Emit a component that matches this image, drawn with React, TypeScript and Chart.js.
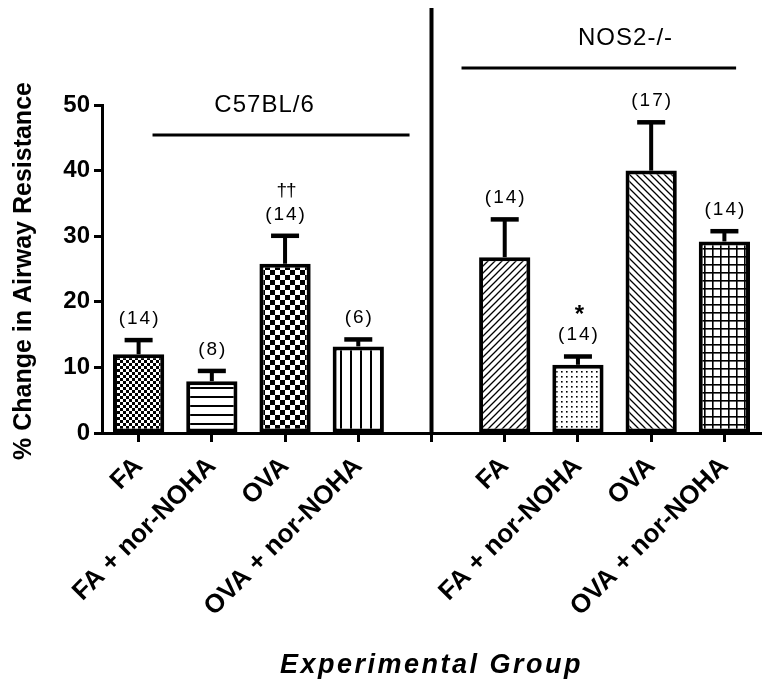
import React, { useEffect, useRef } from 'react';
import { Chart, registerables } from 'chart.js';

Chart.register(...registerables);

const categories = ['FA', 'FA + nor-NOHA', 'OVA', 'OVA + nor-NOHA', '', 'FA', 'FA + nor-NOHA', 'OVA', 'OVA + nor-NOHA'];
const means = [12.0, 7.9, 25.8, 13.2, 0, 26.8, 10.4, 40.0, 29.2];
const errorTops = [14.2, 9.5, 30.1, 14.3, 0, 32.6, 11.7, 47.4, 30.8];
const nLabels = ['(14)', '(8)', '(14)', '(6)', '', '(14)', '(14)', '(17)', '(14)'];
const sigMarks = ['', '', '††', '', '', '', '*', '', ''];
const patternKinds = ['checkFine', 'hlines', 'checkLarge', 'vlines', 'none', 'diagUp', 'dots', 'diagDown', 'grid'];
const groupNames = ['C57BL/6', 'NOS2-/-'];
const yAxisTitle = '% Change in Airway Resistance';
const xAxisTitle = 'Experimental Group';

const FONT = '"Liberation Sans", Arial, sans-serif';

function makePattern(kind: string): CanvasPattern | string {
  if (kind === 'none') return '#ffffff';
  const c = document.createElement('canvas');
  let w = 8, h = 8;
  if (kind === 'checkFine') { w = 6; h = 6; }
  if (kind === 'hlines') { w = 9; h = 9; }
  if (kind === 'checkLarge') { w = 10; h = 10; }
  if (kind === 'vlines') { w = 10; h = 10; }
  if (kind === 'diagUp' || kind === 'diagDown') { w = 7; h = 7; }
  if (kind === 'dots') { w = 5; h = 5; }
  if (kind === 'grid') { w = 8; h = 8; }
  c.width = w; c.height = h;
  const g = c.getContext('2d')!;
  g.fillStyle = '#ffffff';
  g.fillRect(0, 0, w, h);
  g.fillStyle = '#000000';
  g.strokeStyle = '#000000';
  switch (kind) {
    case 'checkFine':
      g.fillRect(0, 0, 3, 3); g.fillRect(3, 3, 3, 3); break;
    case 'checkLarge':
      g.fillRect(0, 0, 5, 5); g.fillRect(5, 5, 5, 5); break;
    case 'hlines':
      g.fillRect(0, 0, w, 2); break;
    case 'vlines':
      g.fillRect(0, 0, 2, h); break;
    case 'diagUp':
      g.lineWidth = 1.3;
      g.beginPath();
      g.moveTo(0, h); g.lineTo(w, 0);
      g.moveTo(-1, 1); g.lineTo(1, -1);
      g.moveTo(w - 1, h + 1); g.lineTo(w + 1, h - 1);
      g.stroke(); break;
    case 'diagDown':
      g.lineWidth = 1.3;
      g.beginPath();
      g.moveTo(0, 0); g.lineTo(w, h);
      g.moveTo(-1, h - 1); g.lineTo(1, h + 1);
      g.moveTo(w - 1, -1); g.lineTo(w + 1, 1);
      g.stroke(); break;
    case 'dots':
      g.fillRect(1, 1, 1.6, 1.6); break;
    case 'grid':
      g.fillRect(0, 0, w, 1.6); g.fillRect(0, 0, 1.6, h); break;
  }
  return g.createPattern(c, 'repeat')!;
}

const annotationPlugin = {
  id: 'annotations',
  afterDatasetsDraw(chart: any) {
    const ctx = chart.ctx as CanvasRenderingContext2D;
    const xs = chart.scales.x;
    const ys = chart.scales.y;
    const area = chart.chartArea;
    ctx.save();
    ctx.fillStyle = '#000';
    for (let i = 0; i < means.length; i++) {
      if (errorTops[i] <= means[i]) continue;
      const x = xs.getPixelForValue(i);
      const yBar = ys.getPixelForValue(means[i]);
      const yErr = ys.getPixelForValue(errorTops[i]);
      ctx.fillRect(x - 2, yErr, 4, yBar - yErr);
      ctx.fillRect(x - 14, yErr - 2, 28, 4.5);
      ctx.font = `19px ${FONT}`;
      (ctx as any).letterSpacing = '2px';
      ctx.textAlign = 'center';
      ctx.textBaseline = 'alphabetic';
      if (nLabels[i]) ctx.fillText(nLabels[i], x + 1, yErr - 16);
      if (sigMarks[i]) {
        (ctx as any).letterSpacing = '-1px';
        ctx.font = sigMarks[i] === '*' ? `bold 24px ${FONT}` : `19px ${FONT}`;
        ctx.fillText(sigMarks[i], x + 1, sigMarks[i] === '*' ? yErr - 34 : yErr - 40);
      }
    }
    (ctx as any).letterSpacing = '0px';
    const sx = xs.getPixelForValue(4);
    ctx.fillRect(sx - 2, 8, 4, area.bottom - 8);
    const line = (a: number, b: number, y: number) => {
      const x1 = xs.getPixelForValue(a), x2 = xs.getPixelForValue(b);
      ctx.fillRect(x1, y - 1.5, x2 - x1, 3);
    };
    line(0.19, 3.70, 135);
    line(4.41, 8.16, 68);
    ctx.font = `24px ${FONT}`;
    (ctx as any).letterSpacing = '1px';
    ctx.textAlign = 'center';
    ctx.textBaseline = 'alphabetic';
    ctx.fillText(groupNames[0], xs.getPixelForValue(1.72), 112);
    ctx.fillText(groupNames[1], xs.getPixelForValue(6.65), 45);
    (ctx as any).letterSpacing = '0px';
    ctx.font = `bold 25px ${FONT}`;
    ctx.save();
    ctx.translate(24, 271);
    ctx.rotate(-Math.PI / 2);
    ctx.textAlign = 'center';
    ctx.textBaseline = 'middle';
    ctx.fillText(yAxisTitle, 0, 0);
    ctx.restore();
    ctx.font = `italic bold 27px ${FONT}`;
    (ctx as any).letterSpacing = '2.5px';
    ctx.textAlign = 'center';
    ctx.textBaseline = 'middle';
    ctx.fillText(xAxisTitle, xs.getPixelForValue(4), 666);
    ctx.restore();
  },
};

export default function App() {
  const ref = useRef<HTMLCanvasElement>(null);
  useEffect(() => {
    if (!ref.current) return;
    const chart = new Chart(ref.current, {
      type: 'bar',
      data: {
        labels: categories,
        datasets: [
          {
            data: means,
            backgroundColor: patternKinds.map(makePattern) as any,
            borderColor: '#000',
            borderWidth: means.map((v) => (v > 0 ? 4 : 0)) as any,
            borderSkipped: false,
            barPercentage: 0.7,
            categoryPercentage: 1,
          },
        ],
      },
      options: {
        responsive: false,
        animation: false,
        layout: { padding: { top: 105, right: 13, left: 0, bottom: 0 } },
        plugins: { legend: { display: false }, tooltip: { enabled: false } },
        scales: {
          x: {
            afterFit: (s: any) => { s.height = 267; },
            grid: { offset: false, drawOnChartArea: false, drawTicks: true, tickLength: 9, tickWidth: 3, tickColor: '#000', color: '#000' },
            border: { display: true, color: '#000', width: 3 },
            ticks: {
              color: '#000',
              font: { family: FONT, size: 26, weight: 'bold' },
              maxRotation: 45,
              minRotation: 45,
              padding: 9,
              autoSkip: false,
            },
          },
          y: {
            min: 0,
            max: 50,
            afterFit: (s: any) => { s.width = 102; },
            grid: { drawOnChartArea: false, drawTicks: true, tickLength: 8, tickWidth: 3, tickColor: '#000', color: '#000' },
            border: { display: true, color: '#000', width: 3 },
            ticks: {
              stepSize: 10,
              color: '#000',
              font: { family: FONT, size: 24, weight: 'bold' },
              padding: 4,
            },
          },
        },
      },
      plugins: [annotationPlugin],
    });
    return () => chart.destroy();
  }, []);
  return (
    <div style={{ position: 'absolute', left: 0, top: 0, width: 774, height: 700, background: '#fff' }}>
      <canvas ref={ref} width={774} height={700} />
    </div>
  );
}
